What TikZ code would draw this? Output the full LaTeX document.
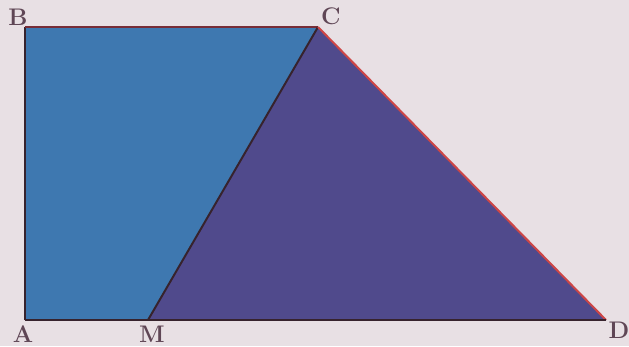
\documentclass[tikz,border=0pt]{standalone}
\usepackage{fontspec}
\setmainfont{Latin Modern Roman}
\begin{document}
\begin{tikzpicture}[x=1pt,y=-1pt,
  lbl/.style={inner sep=0pt,font=\fontsize{24}{25}\selectfont\bfseries,text={rgb,255:red,95;green,70;blue,85}},
  edge/.style={draw={rgb,255:red,55;green,35;blue,45},line width=2pt,line join=round}]
\fill[fill={rgb,255:red,232;green,224;blue,228}] (0,0) rectangle (629,346);
\useasboundingbox (0,0) rectangle (629,346);
\coordinate (A) at (25,320);
\coordinate (B) at (25,27);
\coordinate (C) at (318,27);
\coordinate (D) at (606,320);
\coordinate (M) at (148,320);
\fill[fill={rgb,255:red,62;green,120;blue,176}] (A) -- (B) -- (C) -- (M) -- cycle;
\fill[fill={rgb,255:red,80;green,74;blue,140}] (M) -- (C) -- (D) -- cycle;
\draw[edge] (A) -- (B);
\draw[edge,draw={rgb,255:red,120;green,45;blue,55}] (B) -- (C);
\draw[edge] (C) -- (M);
\draw[edge,draw={rgb,255:red,205;green,70;blue,70}] (C) -- (D);
\draw[edge] (D) -- (A);
\node[lbl] (lA) at (23,334) {A};
\node[lbl] (lB) at (18,17) {B};
\node[lbl] (lC) at (331,16) {C};
\node[lbl] (lM) at (152,334) {M};
\node[lbl] (lD) at (619,330) {D};
\end{tikzpicture}
\end{document}
